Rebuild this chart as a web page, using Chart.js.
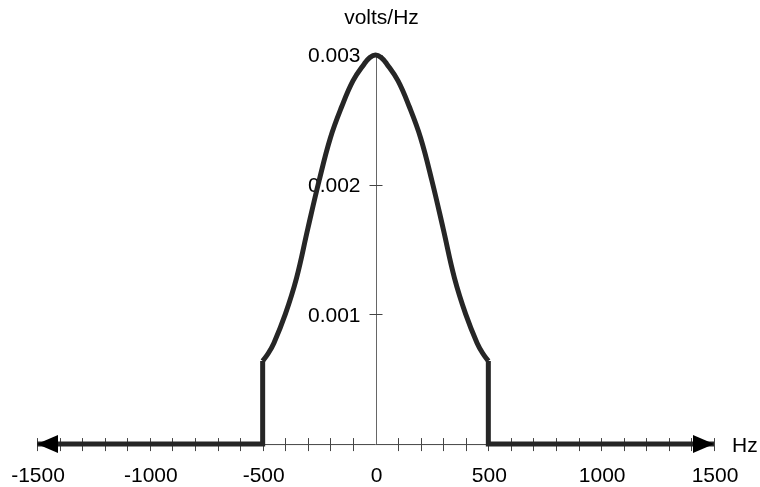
<!DOCTYPE html>
<html>
<head>
<meta charset="utf-8">
<script src="https://cdn.jsdelivr.net/npm/chart.js@4"></script>
<style>
  html, body { margin: 0; padding: 0; background: #fff; }
  #wrap { width: 760px; height: 487px; }
</style>
</head>
<body>
<div id="wrap"><canvas id="grafico" width="760" height="487"></canvas></div>
<script>
// spectrum values (Hz / volts per Hz)
const curveHz = [-500, -475, -450, -400, -350, -300, -250, -200, -150, -100, -50, -25, 0,
                 25, 50, 100, 150, 200, 250, 300, 350, 400, 450, 475, 500];
const curveV = [0.00064, 0.00070, 0.00078, 0.00100, 0.00128, 0.00166, 0.00203, 0.00236, 0.00260, 0.00280, 0.00293, 0.00298, 0.00300,
                0.00298, 0.00293, 0.00280, 0.00260, 0.00236, 0.00203, 0.00166, 0.00128, 0.00100, 0.00078, 0.00070, 0.00064];

// flat parts and the jumps at +-500 Hz
const stepHz = [-1500, -500, -500, null, 500, 500, 1500];
const stepV = [0, 0, 0.00064, null, 0.00064, 0, 0];

// axis labels
const xTickLabels = [-1500, -1000, -500, 0, 500, 1000, 1500];
const yTickLabels = [0.001, 0.002, 0.003];
const xMinorStep = 100;

const corLinha = "#262626";
const fonte = "21px 'Liberation Sans', Arial, sans-serif";

const curva = curveHz.map((x, i) => ({ x: x, y: curveV[i] }));
const degraus = stepHz.map((x, i) => ({ x: x, y: stepV[i] }));

// desenha eixos cruzando no zero, tracinhos, setas e textos
const eixos = {
    id: "eixos",
    beforeDatasetsDraw(chart) {
        const ctx = chart.ctx;
        const sx = chart.scales.x;
        const sy = chart.scales.y;
        const y0 = sy.getPixelForValue(0);
        const x0 = sx.getPixelForValue(0);

        ctx.save();
        ctx.strokeStyle = "#444";
        ctx.lineWidth = 1;

        // eixo x
        ctx.beginPath();
        ctx.moveTo(sx.getPixelForValue(-1500), y0 + 0.5);
        ctx.lineTo(sx.getPixelForValue(1500), y0 + 0.5);
        ctx.stroke();

        // eixo y
        ctx.strokeStyle = "#666";
        ctx.beginPath();
        ctx.moveTo(Math.round(x0) + 0.5, y0);
        ctx.lineTo(Math.round(x0) + 0.5, sy.getPixelForValue(0.003));
        ctx.stroke();

        // tracinhos do eixo x
        ctx.strokeStyle = "#444";
        for (let v = -1500; v <= 1500; v += xMinorStep) {
            if (v === 0) continue;
            const px = Math.round(sx.getPixelForValue(v)) + 0.5;
            ctx.beginPath();
            ctx.moveTo(px, y0 - 6);
            ctx.lineTo(px, y0 + 7);
            ctx.stroke();
        }

        // tracinhos do eixo y
        yTickLabels.forEach(v => {
            const py = Math.round(sy.getPixelForValue(v)) + 0.5;
            ctx.beginPath();
            ctx.moveTo(x0 - 6, py);
            ctx.lineTo(x0 + 7, py);
            ctx.stroke();
        });

        // textos
        ctx.fillStyle = "#000";
        ctx.font = fonte;
        ctx.textAlign = "center";
        ctx.textBaseline = "alphabetic";
        xTickLabels.forEach(v => {
            ctx.fillText(String(v), sx.getPixelForValue(v) + 1, y0 + 38);
        });

        ctx.textAlign = "right";
        yTickLabels.forEach(v => {
            ctx.fillText(v.toFixed(3), x0 - 15, sy.getPixelForValue(v) + 7.5);
        });

        ctx.textAlign = "center";
        ctx.fillText("volts/Hz", x0 + 6, 24);

        ctx.textAlign = "left";
        ctx.fillText("Hz", sx.getPixelForValue(1500) + 18, y0 + 8);
        ctx.restore();
    },
    afterDatasetsDraw(chart) {
        const ctx = chart.ctx;
        const sx = chart.scales.x;
        const y0 = chart.scales.y.getPixelForValue(0);
        const pontaE = sx.getPixelForValue(-1500);
        const pontaD = sx.getPixelForValue(1500);

        ctx.save();
        ctx.fillStyle = "#000";
        ctx.beginPath();
        ctx.moveTo(pontaE, y0);
        ctx.lineTo(pontaE + 21, y0 - 9);
        ctx.lineTo(pontaE + 21, y0 + 9);
        ctx.closePath();
        ctx.fill();

        ctx.beginPath();
        ctx.moveTo(pontaD, y0);
        ctx.lineTo(pontaD - 21, y0 - 9);
        ctx.lineTo(pontaD - 21, y0 + 9);
        ctx.closePath();
        ctx.fill();
        ctx.restore();
    }
};

const ctx = document.getElementById("grafico").getContext("2d");

new Chart(ctx, {
    type: "line",
    data: {
        datasets: [
            {
                data: curva,
                borderColor: corLinha,
                borderWidth: 5,
                borderJoinStyle: "round",
                pointRadius: 0,
                tension: 0.4,
                clip: false
            },
            {
                data: degraus,
                borderColor: corLinha,
                borderWidth: 5,
                pointRadius: 0,
                tension: 0,
                spanGaps: false,
                clip: false
            }
        ]
    },
    options: {
        responsive: false,
        animation: false,
        events: [],
        layout: { padding: { left: 37, right: 46, top: 3, bottom: 4 } },
        plugins: {
            legend: { display: false },
            tooltip: { enabled: false }
        },
        scales: {
            x: { type: "linear", min: -1500, max: 1500, display: false },
            y: { type: "linear", min: -0.0003, max: 0.0034, display: false }
        }
    },
    plugins: [eixos]
});
</script>
</body>
</html>
